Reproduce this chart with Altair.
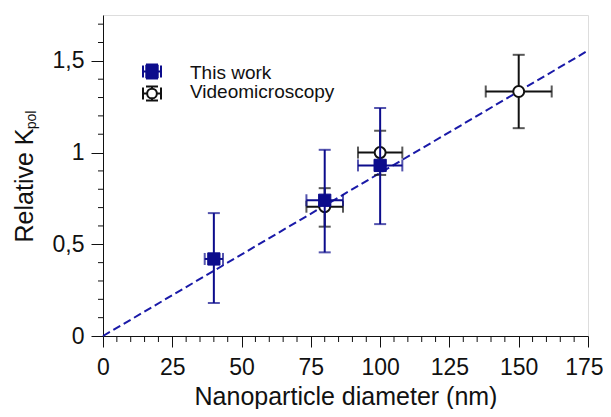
import altair as alt
import pandas as pd

# ---------------- data ----------------
tw_x = [40, 80, 100]
tw_y = [0.42, 0.74, 0.93]
tw_ylo = [0.18, 0.456, 0.61]
tw_yhi = [0.67, 1.015, 1.243]
tw_xerr = [3.3, 6.6, 8.0]

vm_x = [80, 100, 150]
vm_y = [0.705, 1.0, 1.333]
vm_ylo = [0.596, 0.878, 1.133]
vm_yhi = [0.806, 1.119, 1.533]
vm_xerr = [6.6, 8.0, 11.9]

fit_x = [0, 175]
fit_y = [0, 1.556]

x_major = [0, 25, 50, 75, 100, 125, 150, 175]
x_minor = [5, 10, 15, 20, 30, 35, 40, 45, 55, 60, 65, 70, 80, 85, 90, 95,
           105, 110, 115, 120, 130, 135, 140, 145, 155, 160, 165, 170]
y_major = [0, 0.5, 1.0, 1.5]
y_minor = [0.1, 0.2, 0.3, 0.4, 0.6, 0.7, 0.8, 0.9, 1.1, 1.2, 1.3, 1.4, 1.6, 1.7]

legend_labels = ["This work", "Videomicroscopy"]
x_title = "Nanoparticle diameter (nm)"
y_title_main = "Relative K"
y_title_sub = "pol"

# ---------------- styling ----------------
W, H = 485, 321
FONT = "Liberation Sans"
BLUE = "#0c0c8c"
LINE_BLUE = "#1a1aa8"
BLACK = "#111111"

tw = pd.DataFrame({"x": tw_x, "y": tw_y, "ylo": tw_ylo, "yhi": tw_yhi,
                   "xlo": [a - b for a, b in zip(tw_x, tw_xerr)],
                   "xhi": [a + b for a, b in zip(tw_x, tw_xerr)]})
vm = pd.DataFrame({"x": vm_x, "y": vm_y, "ylo": vm_ylo, "yhi": vm_yhi,
                   "xlo": [a - b for a, b in zip(vm_x, vm_xerr)],
                   "xhi": [a + b for a, b in zip(vm_x, vm_xerr)]})
fit = pd.DataFrame({"x": fit_x, "y": fit_y})
xmin_df = pd.DataFrame({"v": x_minor})
ymin_df = pd.DataFrame({"v": y_minor})
one = pd.DataFrame({"a": [0]})

xscale = alt.Scale(domain=[0, 175], nice=False, zero=False)
yscale = alt.Scale(domain=[0, 1.75], nice=False, zero=False)

last_test = "datum.value >= 175"
xaxis = alt.Axis(values=x_major, format="d", tickSize=11, tickColor=BLACK,
                 tickWidth=1, domainColor=BLACK, labelFont=FONT,
                 labelFontSize=23, labelColor=BLACK, labelPadding=9,
                 labelFlush=False, labelOverlap=False, grid=False,
                 labelAlign={"condition": {"test": last_test, "value": "right"},
                             "value": "center"},
                 labelOffset={"condition": {"test": last_test, "value": 15},
                              "value": 0},
                 title=x_title, titleFont=FONT, titleFontSize=25,
                 titleFontWeight="normal", titleColor=BLACK,
                 titleBaseline="alphabetic", titleY=68)
yaxis = alt.Axis(values=y_major, tickSize=12, tickColor=BLACK, tickWidth=1,
                 domainColor=BLACK, labelFont=FONT, labelFontSize=23,
                 labelColor=BLACK, labelPadding=7, labelOverlap=False,
                 labelFlush=False, grid=False, title=None,
                 labelExpr="replace(format(datum.value, '.1~f'), '.', ',')")


def X(field):
    return alt.X(field, type="quantitative", scale=xscale, axis=xaxis)


def Y(field):
    return alt.Y(field, type="quantitative", scale=yscale, axis=yaxis)


# minor ticks
xminor = alt.Chart(xmin_df).mark_rule(color=BLACK, strokeWidth=1).encode(
    x=X("v"), y=alt.value(H), y2=alt.value(H + 6))
yminor = alt.Chart(ymin_df).mark_rule(color=BLACK, strokeWidth=1).encode(
    y=Y("v"), x=alt.value(-5), x2=alt.value(0))

fitline = alt.Chart(fit).mark_line(color=LINE_BLUE, strokeWidth=2,
                                   strokeDash=[8, 4]).encode(x=X("x"), y=Y("y"))


def series(df, color, marker):
    vbar = alt.Chart(df).mark_rule(color=color, strokeWidth=2).encode(
        x=X("x"), y=Y("ylo"), y2="yhi")
    hbar = alt.Chart(df).mark_rule(color=color, strokeWidth=2).encode(
        x=X("xlo"), x2="xhi", y=Y("y"))
    cap_lo = alt.Chart(df).mark_tick(color=color, orient="horizontal", size=12,
                                     thickness=2).encode(x=X("x"), y=Y("ylo"))
    cap_hi = alt.Chart(df).mark_tick(color=color, orient="horizontal", size=12,
                                     thickness=2).encode(x=X("x"), y=Y("yhi"))
    cap_l = alt.Chart(df).mark_tick(color=color, orient="vertical", size=12,
                                    thickness=2).encode(x=X("xlo"), y=Y("y"))
    cap_r = alt.Chart(df).mark_tick(color=color, orient="vertical", size=12,
                                    thickness=2).encode(x=X("xhi"), y=Y("y"))
    if marker == "square":
        pts = alt.Chart(df).mark_point(shape="square", filled=True, fill=BLUE,
                                       stroke=BLUE, strokeWidth=1, size=150,
                                       opacity=1).encode(x=X("x"), y=Y("y"))
    else:
        pts = alt.Chart(df).mark_point(shape="circle", filled=True, fill="white",
                                       stroke=BLACK, strokeWidth=2, size=120,
                                       opacity=1, fillOpacity=1).encode(x=X("x"), y=Y("y"))
    return [vbar, hbar, cap_lo, cap_hi, cap_l, cap_r, pts]


vm_layers = series(vm, BLACK, "circle")
tw_layers = series(tw, BLUE, "square")


# legend glyphs (pixel positions inside the plot area)
def glyph(cx, cy, color, marker, hv=7, hh=9):
    parts = [
        alt.Chart(one).mark_rule(color=color, strokeWidth=2).encode(
            x=alt.value(cx), y=alt.value(cy - hv), y2=alt.value(cy + hv)),
        alt.Chart(one).mark_rule(color=color, strokeWidth=2).encode(
            x=alt.value(cx - hh), x2=alt.value(cx + hh), y=alt.value(cy)),
        alt.Chart(one).mark_rule(color=color, strokeWidth=2).encode(
            x=alt.value(cx - 6), x2=alt.value(cx + 6), y=alt.value(cy - hv)),
        alt.Chart(one).mark_rule(color=color, strokeWidth=2).encode(
            x=alt.value(cx - 6), x2=alt.value(cx + 6), y=alt.value(cy + hv)),
        alt.Chart(one).mark_rule(color=color, strokeWidth=2).encode(
            x=alt.value(cx - hh), y=alt.value(cy - 6), y2=alt.value(cy + 6)),
        alt.Chart(one).mark_rule(color=color, strokeWidth=2).encode(
            x=alt.value(cx + hh), y=alt.value(cy - 6), y2=alt.value(cy + 6)),
    ]
    if marker == "square":
        parts.append(alt.Chart(one).mark_point(shape="square", filled=True,
                                               fill=BLUE, stroke=BLUE, size=130,
                                               opacity=1).encode(
            x=alt.value(cx), y=alt.value(cy)))
    else:
        parts.append(alt.Chart(one).mark_point(shape="circle", filled=True,
                                               fill="white", stroke=BLACK,
                                               strokeWidth=2, size=95,
                                               opacity=1).encode(
            x=alt.value(cx), y=alt.value(cy)))
    return parts


leg = glyph(49, 56.5, BLUE, "square") + glyph(49, 78.5, BLACK, "circle")
leg_text = [
    alt.Chart(one).mark_text(text=legend_labels[0], font=FONT, fontSize=19,
                             align="left", baseline="alphabetic",
                             color=BLACK).encode(x=alt.value(87), y=alt.value(63.5)),
    alt.Chart(one).mark_text(text=legend_labels[1], font=FONT, fontSize=19,
                             align="left", baseline="alphabetic",
                             color=BLACK).encode(x=alt.value(87), y=alt.value(83)),
]

ytitle = [
    alt.Chart(one).mark_text(text=y_title_main, font=FONT, fontSize=25,
                             angle=270, align="center", baseline="alphabetic",
                             color=BLACK).encode(x=alt.value(-70.5), y=alt.value(170.5)),
    alt.Chart(one).mark_text(text=y_title_sub, font=FONT, fontSize=14,
                             angle=270, align="center", baseline="alphabetic",
                             color=BLACK).encode(x=alt.value(-67.5), y=alt.value(105)),
]

chart = alt.layer(
    xminor, yminor, fitline, *vm_layers, *tw_layers, *leg, *leg_text, *ytitle
).properties(
    width=W, height=H,
    autosize=alt.AutoSizeParams(type="none"),
    padding={"left": 95, "top": 7, "right": 15, "bottom": 73},
).configure_view(
    stroke=BLACK, strokeWidth=1
).configure(
    background="white"
)

chart.save("out.html", embed_options={"renderer": "svg", "actions": False})
